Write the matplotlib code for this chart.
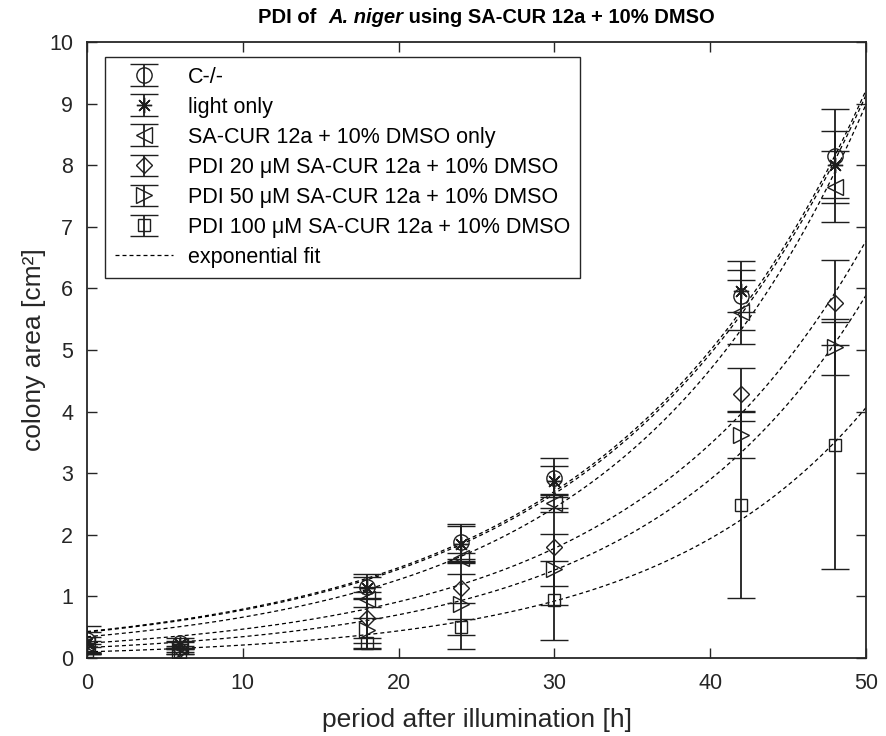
import numpy as np
import matplotlib
matplotlib.use('Agg')
import matplotlib.pyplot as plt

plt.rcParams['font.family'] = ['Liberation Sans', 'DejaVu Sans']

# ---- data ----
hours = [0, 6, 18, 24, 30, 42, 48]

labels = ['C-/-',
          'light only',
          'SA-CUR 12a + 10% DMSO only',
          'PDI 20 μM SA-CUR 12a + 10% DMSO',
          'PDI 50 μM SA-CUR 12a + 10% DMSO',
          'PDI 100 μM SA-CUR 12a + 10% DMSO']

area_ctrl = [0.30, 0.25, 1.16, 1.88, 2.93, 5.88, 8.15]
err_ctrl = [0.22, 0.08, 0.20, 0.30, 0.31, 0.56, 0.77]

area_light = [0.25, 0.22, 1.14, 1.85, 2.88, 5.96, 8.01]
err_light = [0.18, 0.06, 0.17, 0.29, 0.24, 0.34, 0.55]

area_dmso = [0.22, 0.20, 0.95, 1.62, 2.52, 5.62, 7.65]
err_dmso = [0.12, 0.06, 0.12, 0.08, 0.15, 0.52, 0.58]

area_pdi20 = [0.18, 0.15, 0.65, 1.13, 1.80, 4.28, 5.77]
err_pdi20 = [0.10, 0.05, 0.50, 0.23, 0.63, 0.43, 0.69]

area_pdi50 = [0.15, 0.12, 0.45, 0.87, 1.44, 3.62, 5.05]
err_pdi50 = [0.08, 0.05, 0.20, 0.73, 0.58, 0.37, 0.45]

area_pdi100 = [0.12, 0.10, 0.25, 0.50, 0.94, 2.49, 3.45]
err_pdi100 = [0.06, 0.04, 0.08, 0.13, 0.64, 1.52, 2.00]

# exponential fit parameters  y = a * exp(b * t)
fit_a = [0.43, 0.42, 0.345, 0.24, 0.17, 0.10]
fit_b = [0.0613, 0.0616, 0.0652, 0.0668, 0.0709, 0.0741]

x_ticks = [0, 10, 20, 30, 40, 50]
y_ticks = [0, 1, 2, 3, 4, 5, 6, 7, 8, 9, 10]

# ---- styling ----
markers = ['o', (8, 2, 0), '<', 'D', '>', 's']
msizes = [11, 11, 11, 8.5, 11, 8]
dark = '#262626'
ink = '#1e1e1e'

fig = plt.figure(figsize=(8.86, 7.36), dpi=100)
ax = fig.add_axes([87 / 886, 1 - 658 / 736, (866 - 87) / 886, (658 - 42) / 736])

t = np.linspace(0, 50, 300)
fit_handle = None
for a, b in zip(fit_a, fit_b):
    ln, = ax.plot(t, a * np.exp(b * t), ls=(0, (3.2, 2.4)), color='black', lw=0.9, zorder=2)
    fit_handle = ln

series = [(area_ctrl, err_ctrl), (area_light, err_light), (area_dmso, err_dmso),
          (area_pdi20, err_pdi20), (area_pdi50, err_pdi50), (area_pdi100, err_pdi100)]
handles = []
for (y, e), m, ms in zip(series, markers, msizes):
    h = ax.errorbar(hours, y, yerr=e, marker=m, ls='none', color=ink, mfc='none',
                    mec=ink, ms=ms, mew=1.0, capsize=10, elinewidth=1.3, capthick=1.3, zorder=3)
    handles.append(h)

ax.set_xlim(0, 50)
ax.set_ylim(0, 10)
ax.set_xticks(x_ticks)
ax.set_yticks(y_ticks)
ax.tick_params(direction='in', top=True, right=True, length=7, width=1.0,
               colors=dark, labelsize=15.5)
ax.tick_params(axis='x', pad=11)
ax.tick_params(axis='y', pad=10)
for sp in ax.spines.values():
    sp.set_color(dark)
    sp.set_linewidth(1.3)

ax.set_xlabel('period after illumination [h]', fontsize=19, color=dark, labelpad=10)
ax.set_ylabel('colony area [cm²]', fontsize=19, color=dark, labelpad=2)

leg = ax.legend(handles + [fit_handle], labels + ['exponential fit'],
                loc='upper left', bbox_to_anchor=(18 / 779, 1 - 15 / 616),
                borderaxespad=0, fontsize=15.5, frameon=True, fancybox=False,
                edgecolor=dark, framealpha=1, handlelength=2.7, handletextpad=0.7,
                labelspacing=0.42, borderpad=0.45)
leg.get_frame().set_linewidth(1.0)

# ---- title with bold-italic species name ----
fig.canvas.draw()
r = fig.canvas.get_renderer()
parts = [('PDI of  ', 'normal'), ('A. niger', 'italic'), (' using SA-CUR 12a + 10% DMSO', 'normal')]
texts = []
for s, style in parts:
    tx = fig.text(0, 0, s, fontsize=14.5, fontweight='bold', style=style, color='black',
                  ha='left', va='baseline')
    texts.append(tx)
widths = [tx.get_window_extent(renderer=r).width for tx in texts]
total = sum(widths)
W = fig.get_figwidth() * fig.dpi
cx = (87 + 866) / 2 / 886 * W + 10
x0 = cx - total / 2
ybase = 1 - 23 / 736
for tx, w in zip(texts, widths):
    tx.set_position((x0 / W, ybase))
    x0 += w

fig.savefig('out.png', dpi=100)
